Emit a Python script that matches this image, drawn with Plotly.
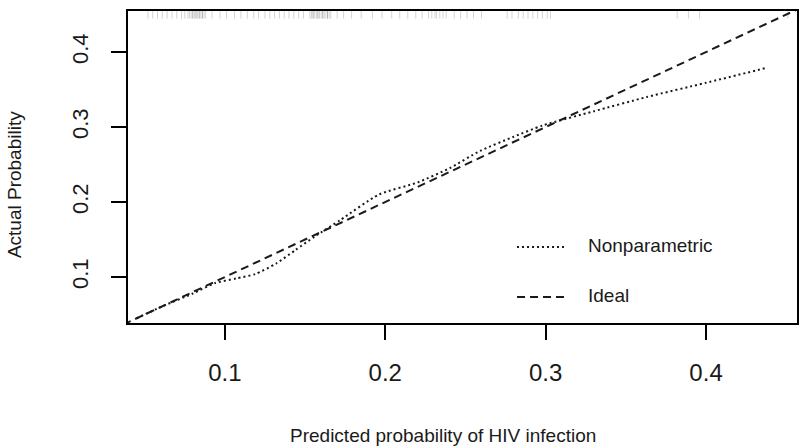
import plotly.graph_objects as go

# Nonparametric calibration curve
np_x = [0.045, 0.060, 0.080, 0.094, 0.107, 0.119, 0.132, 0.144, 0.156, 0.172,
        0.196, 0.220, 0.240, 0.259, 0.280, 0.298, 0.330, 0.363, 0.400, 0.438]
np_y = [0.045, 0.060, 0.078, 0.092, 0.098, 0.104, 0.118, 0.136, 0.154, 0.176,
        0.210, 0.226, 0.245, 0.268, 0.287, 0.302, 0.321, 0.340, 0.359, 0.379]

# Ideal line
ideal_x = [0.0, 0.5]
ideal_y = [0.0, 0.5]

# Rug of predicted probabilities (top)
rug_x = [0.052, 0.055, 0.058, 0.061, 0.064, 0.067, 0.070, 0.073, 0.075,
         0.077, 0.078, 0.079, 0.080, 0.081, 0.082, 0.083, 0.084, 0.085, 0.086,
         0.087, 0.088, 0.080, 0.082, 0.084, 0.086,
         0.092, 0.097, 0.101, 0.106, 0.110, 0.114, 0.118, 0.121, 0.125, 0.128,
         0.131, 0.134, 0.137, 0.140, 0.143, 0.146, 0.149,
         0.153, 0.154, 0.155, 0.156, 0.157, 0.158, 0.159, 0.160, 0.161, 0.162,
         0.163, 0.164, 0.165, 0.166, 0.155, 0.158, 0.161, 0.164,
         0.170, 0.174, 0.179, 0.185, 0.192, 0.198, 0.204, 0.209, 0.214, 0.219, 0.223,
         0.227, 0.229, 0.231, 0.232, 0.234, 0.236, 0.238,
         0.243, 0.247, 0.251, 0.255, 0.260,
         0.276, 0.279, 0.283, 0.286, 0.289, 0.292, 0.295, 0.298, 0.301, 0.303,
         0.382, 0.389, 0.396, 0.451]

x_ticks = [0.1, 0.2, 0.3, 0.4]
y_ticks = [0.1, 0.2, 0.3, 0.4]
x_range = [0.0396, 0.4567]
y_range = [0.0387, 0.4547]

legend_labels = ["Nonparametric", "Ideal"]
x_title = "Predicted probability of HIV infection"
y_title = "Actual Probability"

FONT = "Liberation Sans, Arial, Helvetica, sans-serif"
INK = "#1a1a1a"
RUG = "rgba(60,60,60,0.22)"

fig = go.Figure()
fig.add_trace(go.Scatter(x=ideal_x, y=ideal_y, mode="lines",
                         line=dict(color=INK, width=2, dash="8px,5px"),
                         showlegend=False, hoverinfo="skip"))
fig.add_trace(go.Scatter(x=np_x, y=np_y, mode="lines",
                         line=dict(color=INK, width=2, dash="2px,3px",
                                   shape="spline", smoothing=0.6),
                         showlegend=False, hoverinfo="skip"))
fig.add_trace(go.Scatter(x=rug_x, y=[0.989] * len(rug_x), yaxis="y2", mode="markers",
                         marker=dict(symbol="line-ns-open", size=6, color=RUG,
                                     line=dict(color=RUG, width=1)),
                         cliponaxis=False,
                         showlegend=False, hoverinfo="skip"))

fig.update_layout(
    width=800, height=448,
    margin=dict(l=128, r=3, t=11, b=125, autoexpand=False),
    paper_bgcolor="white", plot_bgcolor="white",
    font=dict(family=FONT, color=INK),
    showlegend=False,
    xaxis=dict(range=x_range, tickvals=x_ticks, ticktext=[str(v) for v in x_ticks],
               showgrid=False, zeroline=False, automargin=False,
               showline=True, linecolor="black", linewidth=1.5, mirror=True,
               ticks="outside", ticklen=15, tickwidth=1.5, tickcolor="black",
               tickfont=dict(size=24, family=FONT, color=INK),
               ticklabelstandoff=12),
    yaxis=dict(range=y_range, tickvals=y_ticks, ticktext=[str(v) for v in y_ticks],
               showgrid=False, zeroline=False, automargin=False,
               showline=True, linecolor="black", linewidth=1.5, mirror=True,
               ticks="outside", ticklen=15, tickwidth=1.5, tickcolor="black",
               tickangle=-90,
               tickfont=dict(size=22, family=FONT, color=INK),
               ticklabelstandoff=14),
    yaxis2=dict(range=[0, 1], overlaying="y", visible=False, fixedrange=True,
                automargin=False),
)

# axis titles
fig.add_annotation(text=x_title, xref="paper", yref="paper", x=0.471, y=0,
                   yshift=-112, xanchor="center", yanchor="middle", showarrow=False,
                   font=dict(size=19, family=FONT, color=INK))
fig.add_annotation(text=y_title, xref="paper", yref="paper", x=0, y=0.442,
                   xshift=-114, textangle=-90, xanchor="center", yanchor="middle",
                   showarrow=False, font=dict(size=19, family=FONT, color=INK))

# legend (drawn like R's legend())
leg_y = [0.2436, 0.0833]
leg_dash = ["2px,3px", "8px,5px"]
for lab, yy, dsh in zip(legend_labels, leg_y, leg_dash):
    fig.add_shape(type="line", xref="paper", yref="paper", x0=0.5815, x1=0.6562,
                  y0=yy, y1=yy, line=dict(color=INK, width=2, dash=dsh))
    fig.add_annotation(text=lab, xref="paper", yref="paper", x=0.6846, y=yy + 0.006,
                       xanchor="left", yanchor="middle", showarrow=False,
                       font=dict(size=19, family=FONT, color=INK))

fig.write_html("out.html", config={"displayModeBar": False},
               post_script="document.body.style.margin='0';document.body.style.overflow='hidden';")
